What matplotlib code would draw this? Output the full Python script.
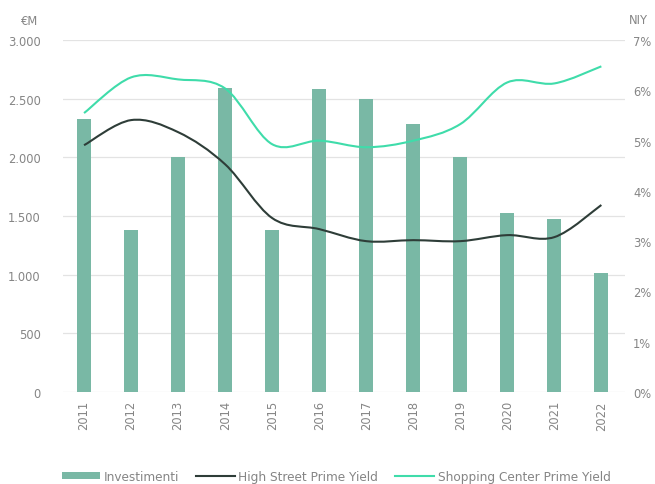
import matplotlib.pyplot as plt
import matplotlib.ticker as ticker
import numpy as np
from matplotlib.lines import Line2D
from matplotlib.patches import Patch, PathPatch
from matplotlib.path import Path

years = ["2011", "2012", "2013", "2014", "2015", "2016", "2017", "2018", "2019", "2020", "2021", "2022"]
investimenti = [2330, 1380, 2000, 2590, 1380, 2580, 2500, 2285, 2000, 1525, 1475, 1015]
high_street = [4.91, 5.41, 5.17, 4.53, 3.46, 3.24, 3.00, 3.02, 3.00, 3.12, 3.08, 3.72]
shopping_center = [5.55, 6.26, 6.22, 6.04, 4.93, 5.00, 4.87, 5.00, 5.33, 6.16, 6.14, 6.48]

BAR_COLOR = "#79b8a5"
DARK_LINE = "#2e3d38"
LIGHT_LINE = "#3fdcaa"
TEXT = "#858585"


def smooth_path(x, y):
    # catmull-rom style bezier, like the "smoothed line" option of office charts
    pts = np.column_stack([x, y]).astype(float)
    verts = [pts[0]]
    codes = [Path.MOVETO]
    n = len(pts)
    for i in range(n - 1):
        p0 = pts[max(i - 1, 0)]
        p1 = pts[i]
        p2 = pts[i + 1]
        p3 = pts[min(i + 2, n - 1)]
        c1 = p1 + (p2 - p0) / 6
        c2 = p2 - (p3 - p1) / 6
        verts += [c1, c2, p2]
        codes += [Path.CURVE4] * 3
    return Path(verts, codes)


fig = plt.figure(figsize=(6.55, 4.85), dpi=100)
ax = fig.add_axes([0.096, 0.19, 0.858, 0.725])
ax2 = ax.twinx()

x = np.arange(len(years))
ax.bar(x, investimenti, width=0.3, color=BAR_COLOR, zorder=2)
ax.set_ylim(0, 3000)
ax.set_xlim(-0.45, 11.5)
ax.yaxis.set_major_locator(ticker.MultipleLocator(500))
ax.yaxis.set_major_formatter(ticker.FuncFormatter(lambda v, p: f"{int(v):,}".replace(",", ".")))
ax.set_xticks(x)
ax.set_xticklabels(years, rotation=90)
ax.grid(axis="y", color="#e3e3e3", linewidth=0.9, zorder=0)
ax.set_axisbelow(True)

ax2.set_ylim(0, 7)
ax2.yaxis.set_major_locator(ticker.MultipleLocator(1))
ax2.yaxis.set_major_formatter(ticker.FuncFormatter(lambda v, p: f"{int(v)}%"))
ax2.add_patch(PathPatch(smooth_path(x, high_street), fill=False, edgecolor=DARK_LINE, linewidth=1.5, zorder=3))
ax2.add_patch(PathPatch(smooth_path(x, shopping_center), fill=False, edgecolor=LIGHT_LINE, linewidth=1.5, zorder=3))

for a in (ax, ax2):
    for s in a.spines.values():
        s.set_visible(False)
    a.tick_params(length=0, colors=TEXT, labelsize=8.3)
ax.tick_params(axis="x", pad=6)
ax.tick_params(axis="y", pad=16)
ax2.tick_params(axis="y", pad=6)

fig.text(0.045, 0.955, "€M", color=TEXT, fontsize=8.3, ha="center", va="center")
fig.text(0.975, 0.958, "NIY", color=TEXT, fontsize=8.3, ha="center", va="center")

handles = [
    Patch(facecolor=BAR_COLOR, label="Investimenti"),
    Line2D([], [], color=DARK_LINE, linewidth=1.5, label="High Street Prime Yield"),
    Line2D([], [], color=LIGHT_LINE, linewidth=1.5, label="Shopping Center Prime Yield"),
]
leg = fig.legend(handles=handles, loc="center", ncol=3, frameon=False,
                 bbox_to_anchor=(0.513, 0.016), fontsize=8.7, handlelength=3.2,
                 handleheight=0.45, columnspacing=1.4, handletextpad=0.3)
for t in leg.get_texts():
    t.set_color(TEXT)

fig.savefig("out.png", dpi=100)
